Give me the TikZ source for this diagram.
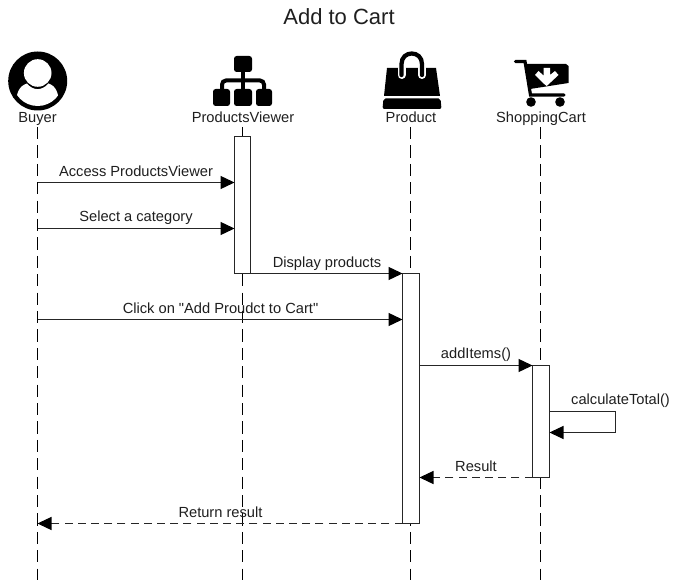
\documentclass[tikz,border=0pt]{standalone}
\usepackage{fontspec}
\setmainfont{Liberation Sans}
\newfontfamily\labfont{Liberation Sans}
\usetikzlibrary{arrows.meta,calc}
\tikzset{
  x=0.75pt,y=-0.75pt,
  every node/.style={inner sep=0pt,outer sep=0pt,font=\labfont\fontsize{11}{13}\selectfont,anchor=base,text=black!88},
  lifeline/.style={line width=0.8pt,dash pattern=on 9.2pt off 4.6pt},
  actbox/.style={draw=black!85,fill=white,line width=0.8pt,anchor=north},
  msg/.style={line width=0.8pt,draw=black!85,-{Triangle[length=10.5pt,width=9.8pt,black]}},
  ret/.style={msg,dash pattern=on 6pt off 3.9pt},
}
\begin{document}
\begin{tikzpicture}
\useasboundingbox (0,0) rectangle (677,580);
\fill[white] (0,0) rectangle (677,580);
\node[font=\labfont\fontsize{16.5}{18}\selectfont] (title) at (339,25) {Add to Cart};

% Icons
% Buyer
\begin{scope}
  \fill[black] (37.7,81) circle[radius=29.5*0.75pt];
  \begin{scope}
    \clip (37.7,81) circle[radius=25*0.75pt];
    \fill[white] (16,106) .. controls (16,93) and (19,86) .. (27,83.5) .. controls (33,91) and (42,91) .. (48.5,83.5) .. controls (56,86) and (59,93) .. (59,106) -- cycle;
  \end{scope}
  \fill[white] (37.7,73) circle[radius=13.8*0.75pt];
\end{scope}
% ProductsViewer
\begin{scope}
  \foreach \xa/\ya/\xb/\yb in {234/56/252/72,213/89/230/106,234/89/252/106,256/89/272/106}
    \fill[black,rounded corners=2pt] (\xa,\ya) rectangle (\xb,\yb);
  \draw[black,line width=3pt] (243,72) -- (243,89);
  \draw[black,line width=3pt,rounded corners=3pt] (222,89) -- (222,80.5) -- (264,80.5) -- (264,89);
\end{scope}
% Product
\begin{scope}
  \fill[black] (387,68) -- (436,68) -- (440,96) -- (384,96) -- cycle;
  \fill[black,rounded corners=1.5pt] (383.5,98.5) -- (440.5,98.5) -- (441.5,109) -- (382.5,109) -- cycle;
  \draw[white,line width=6pt,line cap=round] (401.5,75) -- (401.5,68);
  \draw[white,line width=6pt,line cap=round] (422,75) -- (422,68);
  \draw[black,line width=3.2pt,line cap=round] (401.5,75) -- (401.5,64) .. controls (401.5,50) and (422,50) .. (422,64) -- (422,75);
\end{scope}
% ShoppingCart
\begin{scope}
  \fill[black] (526.5,64) -- (566,64) -- (568.5,66) -- (568.5,83) -- (530,89) -- cycle;
  \draw[black,line width=2.4pt,line cap=round] (515.5,61.5) -- (525,61.5) -- (530.5,95) -- (564,95);
  \fill[black] (531,102) circle[radius=3.6pt];
  \fill[black] (560,102) circle[radius=3.6pt];
  \fill[white] (543.5,68) -- (550,68) -- (550,75) -- (555,71) -- (558.5,75) -- (546.7,86) -- (543,83) -- (535,75) -- (538.5,71) -- (543.5,75.5) -- cycle;
\end{scope}

% Heads
\node (buyer) at (37.5,122.7) {Buyer};
\node (viewer) at (243,122.7) {ProductsViewer};
\node (product) at (411,122.7) {Product};
\node (cart) at (541,122.7) {ShoppingCart};

% Lifeline ends
\coordinate (buyerstart) at (37.5,127);
\coordinate (viewerstart) at (242.5,127);
\coordinate (productstart) at (410.5,127);
\coordinate (cartstart) at (540.5,127);
\coordinate (buyerend) at (37.5,580);
\coordinate (viewerend) at (242.5,580);
\coordinate (productend) at (410.5,580);
\coordinate (cartend) at (540.5,580);
\draw[lifeline] (buyerstart) -- (buyerend);
\draw[lifeline] (viewerstart) -- (viewerend);
\draw[lifeline] (productstart) -- (productend);
\draw[lifeline] (cartstart) -- (cartend);

% Activations
\node[actbox,minimum width=12pt,minimum height=102.75pt] (viewerbox) at (242.5,136.5) {};
\node[actbox,minimum width=12.75pt,minimum height=187.5pt] (productbox) at (411,273.5) {};
\node[actbox,minimum width=12.75pt,minimum height=84pt] (cartbox) at (541,365.5) {};

% Messages
\coordinate (m1) at (37.5,182.5);
\coordinate (m2) at (37.5,228.5);
\coordinate (m3) at (250,273.5);
\coordinate (m4) at (37.5,319.5);
\coordinate (m5) at (419,365.5);
\coordinate (m6a) at (549,411.5);
\coordinate (m6b) at (549,432.5);
\coordinate (m7) at (533,477.5);
\coordinate (m8) at (403,523.5);
\draw[msg] (m1) -- (m1 -| viewerbox.west);
\draw[msg] (m2) -- (m2 -| viewerbox.west);
\draw[msg] (m3 -| viewerbox.east) -- (m3 -| productbox.west);
\draw[msg] (m4) -- (m4 -| productbox.west);
\draw[msg] (m5 -| productbox.east) -- (m5 -| cartbox.west);
\draw[msg] (m6a -| cartbox.east) -- ++(66,0) |- (m6b -| cartbox.east);
\draw[ret] (m7 -| cartbox.west) -- (m7 -| productbox.east);
\draw[ret] (m8 -| productbox.west) -- (m8 -| buyerend);

% Labels
\node (l1) at (136,176.7) {Access ProductsViewer};
\node (l2) at (136,221.5) {Select a category};
\node (l3) at (327,267.5) {Display products};
\node (l4) at (220.5,313.5) {Click on "Add Proudct to Cart"};
\node (l5) at (476,358.5) {addItems()};
\node (l6) at (620.5,404) {calculateTotal()};
\node (l7) at (476,471) {Result};
\node (l8) at (220.5,517) {Return result};
\end{tikzpicture}
\end{document}
